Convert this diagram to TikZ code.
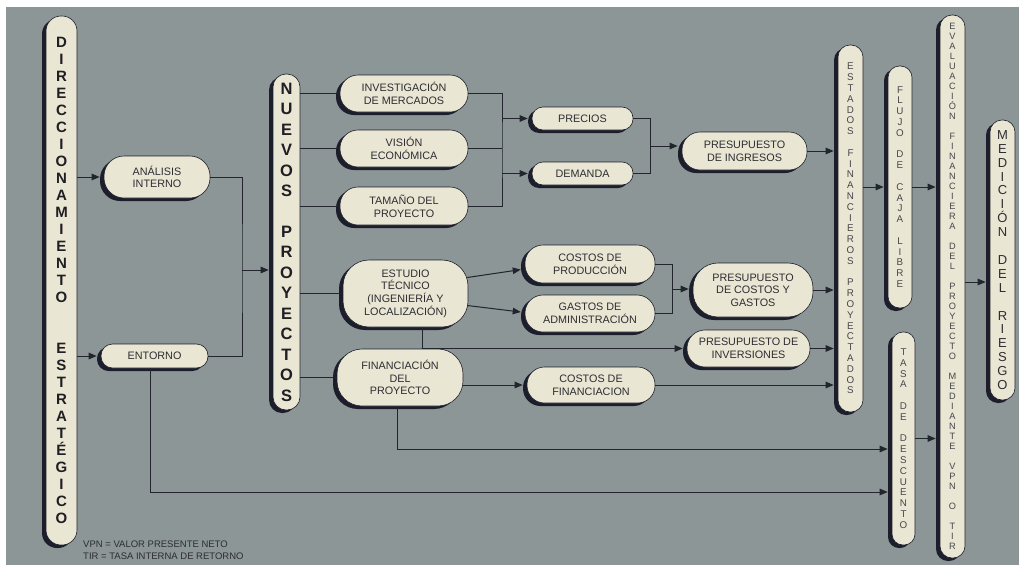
\documentclass[tikz,border=0pt]{standalone}
\usepackage{fontspec}
\setmainfont{Liberation Sans}
\usetikzlibrary{shadows,calc,arrows.meta}
\definecolor{bgc}{RGB}{140,150,150}
\definecolor{cream}{RGB}{234,230,212}
\definecolor{shc}{RGB}{28,30,44}
\definecolor{lnc}{RGB}{34,36,46}
\definecolor{txc}{RGB}{45,45,50}
\definecolor{dtx}{RGB}{30,30,35}
\definecolor{ltx}{RGB}{70,70,75}
\begin{document}
\begin{tikzpicture}[x=1pt,y=-1pt,
  box/.style={draw=shc, line width=0.6pt, fill=cream, inner sep=0pt, align=center, text=txc,
     font=\fontsize{10.8}{12.7}\selectfont,
     drop shadow={shadow xshift=-4pt, shadow yshift=-3pt, fill=shc, opacity=1}},
  sz/.style 2 args={minimum width=#1pt, minimum height=#2pt},
  bigcol/.style={font=\bfseries\fontsize{15}{17}\selectfont, text=dtx},
  nuecol/.style={font=\bfseries\fontsize{16.5}{20.5}\selectfont, text=dtx},
  medcol/.style={font=\fontsize{13}{13.9}\selectfont, text=txc},
  smcol/.style={font=\fontsize{9.8}{10.8}\selectfont, text=ltx},
  evacol/.style={font=\fontsize{9.2}{10}\selectfont, text=ltx},
  ln/.style={draw=lnc, line width=1pt},
  arr/.style={ln, -{Triangle[length=8pt,width=6.5pt]}, shorten >=4pt}
]
\clip (0,0) rectangle (1019,565);
\fill[white] (0,0) rectangle (1019,565);
\fill[bgc] (6,7) rectangle (1019,565);

% left column
\node[box, bigcol, sz={31}{529}, rounded corners=15pt] (dir) at (61.5,280.5)
 {D\\I\\R\\E\\C\\C\\I\\O\\N\\A\\M\\I\\E\\N\\T\\O\\[34pt]E\\S\\T\\R\\A\\T\\É\\G\\I\\C\\O};
\node[box, sz={106}{42}, rounded corners=20pt] (ana) at (157,177) {ANÁLISIS\\INTERNO};
\node[box, sz={107}{24}, rounded corners=11.5pt] (ent) at (154.5,356) {ENTORNO};
\node[box, nuecol, sz={27}{336}, rounded corners=13pt] (nue) at (286.5,242)
 {N\\U\\E\\V\\O\\S\\[20pt]P\\R\\O\\Y\\E\\C\\T\\O\\S};

% second column
\node[box, sz={128}{37}, rounded corners=18pt] (inv) at (404,93.5) {INVESTIGACIÓN\\DE MERCADOS};
\node[box, sz={128}{37}, rounded corners=18pt] (vis) at (404,148.5) {VISIÓN\\ECONÓMICA};
\node[box, sz={128}{38}, rounded corners=18pt] (tam) at (404,206) {TAMAÑO DEL\\PROYECTO};
\node[box, sz={125}{67}, rounded corners=26pt] (est) at (405.5,293.5) {ESTUDIO\\TÉCNICO\\(INGENIERÍA Y\\LOCALIZACIÓN)};
\node[box, sz={126}{57}, rounded corners=25pt] (fin) at (400,377.5) {FINANCIACIÓN\\DEL\\PROYECTO};

% third column
\node[box, sz={101}{23}, rounded corners=11pt] (pre) at (582.5,118.5) {PRECIOS};
\node[box, sz={101}{23}, rounded corners=11pt] (dem) at (582.5,173.5) {DEMANDA};
\node[box, sz={130}{38}, rounded corners=18pt] (cpr) at (590,264) {COSTOS DE\\PRODUCCIÓN};
\node[box, sz={130}{37}, rounded corners=18pt] (gad) at (590,313.5) {GASTOS DE\\ADMINISTRACIÓN};
\node[box, sz={128}{36}, rounded corners=17.5pt] (cfi) at (591,385) {COSTOS DE\\FINANCIACION};

% fourth column
\node[box, sz={125}{38}, rounded corners=18pt] (pin) at (744.5,151) {PRESUPUESTO\\DE INGRESOS};
\node[box, sz={120}{54}, rounded corners=25pt] (pcg) at (753,290) {PRESUPUESTO\\DE COSTOS Y\\GASTOS};
\node[box, sz={123}{37}, rounded corners=18pt] (pinv) at (748.5,348.5) {PRESUPUESTO DE\\INVERSIONES};

% right columns
\node[box, smcol, sz={25}{367}, rounded corners=12pt] (efp) at (850.5,228.5)
 {E\\S\\T\\A\\D\\O\\S\\[10.8pt]F\\I\\N\\A\\N\\C\\I\\E\\R\\O\\S\\[10.8pt]P\\R\\O\\Y\\E\\C\\T\\A\\D\\O\\S};
\node[box, smcol, sz={24}{242}, rounded corners=11.5pt] (flu) at (900,187)
 {F\\L\\U\\J\\O\\[10.8pt]D\\E\\[10.8pt]C\\A\\J\\A\\[10.8pt]L\\I\\B\\R\\E};
\node[box, smcol, sz={23}{213}, rounded corners=11pt] (tas) at (903.5,438.5)
 {T\\A\\S\\A\\[10.8pt]D\\E\\[10.8pt]D\\E\\S\\C\\U\\E\\N\\T\\O};
\node[box, evacol, sz={25}{543}, rounded corners=12pt] (eva) at (952.5,286.5)
 {E\\V\\A\\L\\U\\A\\C\\I\\Ó\\N\\[10pt]F\\I\\N\\A\\N\\C\\I\\E\\R\\A\\[10pt]D\\E\\L\\[10pt]P\\R\\O\\Y\\E\\C\\T\\O\\[10pt]M\\E\\D\\I\\A\\N\\T\\E\\[10pt]V\\P\\N\\[10pt]O\\[10pt]T\\I\\R};
\node[box, medcol, sz={25}{280}, rounded corners=12pt] (med) at (1002.5,260)
 {M\\E\\D\\I\\C\\I\\Ó\\N\\[13.9pt]D\\E\\L\\[13.9pt]R\\I\\E\\S\\G\\O};

% bus coordinates
\coordinate (b0) at (242,270);
\coordinate (b1) at (502,150);
\coordinate (b2) at (650,146);
\coordinate (b3) at (672,289);
\coordinate (m1) at (975,282);

% connectors
\draw[arr] (dir.east |- ana.west) -- (ana.west);
\draw[arr] (dir.east |- ent.west) -- (ent.west);
\draw[ln] (ana.east) -| (b0) |- (ent.east);
\draw[arr] (b0) -- (nue.west |- b0);

\foreach \n in {inv,vis,tam,est,fin}{
  \draw[ln] (nue.east |- \n.west) -- (\n.west);
}
\draw[ln] (inv.east) -| (b1) |- (tam.east);
\draw[ln] (vis.east) -- (vis.east -| b1);
\draw[arr] (b1 |- pre.west) -- (pre.west);
\draw[arr] (b1 |- dem.west) -- (dem.west);

\draw[ln] (pre.east) -| (b2) |- (dem.east);
\draw[arr] (b2) -- (pin.west |- b2);
\draw[arr] (pin.east) -- (efp.west |- pin.east);

\draw[arr] ($(est.east)+(-1,-16)$) -- ($(cpr.west)+(0,5)$);
\draw[arr] ($(est.east)+(-1,12)$) -- ($(gad.west)+(0,-1)$);
\draw[ln] (cpr.east) -| (b3) |- (gad.east);
\draw[arr] (b3) -- (pcg.west |- b3);
\draw[arr] (pcg.east) -- (efp.west |- pcg.east);

\draw[arr] ($(est.south)+(17,0)$) |- (pinv.west);
\draw[arr] (pinv.east) -- (efp.west |- pinv.east);

\draw[arr] (fin.east |- cfi.west) -- (cfi.west);
\draw[arr] (cfi.east) -- (efp.west |- cfi.east);

\draw[arr] ($(fin.south)+(-3,0)$) |- ($(tas.west)+(0,10.5)$);
\draw[arr] ($(ent.south)+(-4,0)$) |- ($(tas.west)+(0,53.5)$);

\draw[arr] (efp.east |- flu.west) -- (flu.west);
\draw[arr] (flu.east) -- (eva.west |- flu.east);
\draw[arr] (tas.east) -- (eva.west |- tas.east);
\draw[arr] (eva.east |- m1) -- (med.west |- m1);

% legend
\node[anchor=west, align=left, inner sep=0pt, text=txc, font=\fontsize{9.5}{12}\selectfont] (leg) at (83,550)
 {VPN = VALOR PRESENTE NETO\\TIR = TASA INTERNA DE RETORNO};
\end{tikzpicture}
\end{document}
